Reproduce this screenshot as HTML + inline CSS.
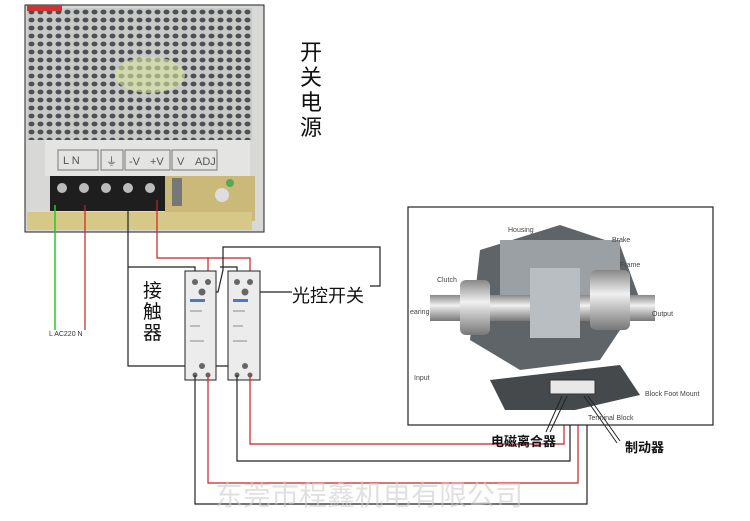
<!DOCTYPE html>
<html><head><meta charset="utf-8"><style>
body{margin:0;background:#fff;}
svg{display:block;font-family:"Liberation Sans","Noto Sans CJK SC",sans-serif;}
</style></head><body>
<svg width="750" height="521" viewBox="0 0 750 521" xmlns="http://www.w3.org/2000/svg">
<defs>
<pattern id="holes" width="9" height="8" patternUnits="userSpaceOnUse">
<rect width="9" height="8" fill="#c9c9c6"/>
<ellipse cx="4.5" cy="4" rx="3" ry="2.4" fill="#4a5058"/>
</pattern>
<linearGradient id="shaft" x1="0" y1="0" x2="0" y2="1">
<stop offset="0" stop-color="#888"/><stop offset="0.4" stop-color="#f0f0f0"/><stop offset="1" stop-color="#777"/>
</linearGradient>
</defs>
<!-- power supply -->
<rect x="25" y="5" width="239" height="227" fill="#d8d8d6" stroke="#222" stroke-width="1"/>
<rect x="27" y="8" width="225" height="132" fill="url(#holes)"/>
<rect x="27" y="5" width="35" height="6" fill="#c33"/>
<ellipse cx="150" cy="75" rx="35" ry="18" fill="#d9e4a0" opacity="0.6"/>
<rect x="45" y="140" width="205" height="36" fill="#e4e4e2"/>
<g fill="none" stroke="#777" stroke-width="1"><rect x="58" y="150" width="40" height="20"/><rect x="101" y="150" width="22" height="20"/><rect x="125" y="150" width="45" height="20"/><rect x="172" y="150" width="45" height="20"/></g>
<g font-size="11" fill="#555"><text x="63" y="164">L N</text><text x="106" y="165">⏚</text><text x="129" y="165">-V</text><text x="150" y="165">+V</text><text x="177" y="165">V</text><text x="195" y="165">ADJ</text></g>
<rect x="50" y="176" width="115" height="35" fill="#1e1e1e"/>
<g fill="#bbb"><circle cx="62" cy="188" r="5"/><circle cx="84" cy="188" r="5"/><circle cx="106" cy="188" r="5"/><circle cx="128" cy="188" r="5"/><circle cx="150" cy="188" r="5"/></g>
<rect x="165" y="176" width="90" height="45" fill="#cbb97a"/>
<rect x="172" y="178" width="10" height="28" fill="#777"/><circle cx="222" cy="195" r="7" fill="#ddd"/><circle cx="230" cy="183" r="4" fill="#5a5"/>
<rect x="27" y="212" width="225" height="18" fill="#d6c987"/>
<text x="300" y="60" font-size="22" fill="#111">开</text><text x="300" y="85" font-size="22" fill="#111">关</text><text x="300" y="110" font-size="22" fill="#111">电</text><text x="300" y="135" font-size="22" fill="#111">源</text>
<!-- AC wires -->
<line x1="55" y1="205" x2="55" y2="330" stroke="#2c2" stroke-width="1.5"/>
<line x1="85" y1="205" x2="85" y2="330" stroke="#c22" stroke-width="1.2"/>
<text x="49" y="336" font-size="7" fill="#333">L  AC220   N</text>
<!-- black feed -->
<polyline points="128,205 128,366 245,366" fill="none" stroke="#222" stroke-width="1.2"/>
<polyline points="128,267 195,267 195,278" fill="none" stroke="#222" stroke-width="1.2"/>
<polyline points="220,267 237,267 237,278" fill="none" stroke="#222" stroke-width="1.2"/>
<!-- red feed -->
<polyline points="157,200 157,258 250,258 250,278" fill="none" stroke="#c22" stroke-width="1.2"/>
<line x1="208" y1="258" x2="208" y2="278" stroke="#c22" stroke-width="1.2"/>
<!-- light switch loop -->
<polyline points="203,292 218,292 223,270 223,247 380,247 380,286 370,286" fill="none" stroke="#222" stroke-width="1.2"/>
<line x1="247" y1="292" x2="292" y2="292" stroke="#222" stroke-width="1.2"/>
<text x="292" y="302" font-size="18" fill="#111">光控开关</text>
<text x="143" y="297" font-size="19" fill="#111">接</text><text x="143" y="318" font-size="19" fill="#111">触</text><text x="143" y="339" font-size="19" fill="#111">器</text>
<!-- contactors -->
<g>
<rect x="185" y="271" width="31" height="109" fill="#ececec" stroke="#222"/>
<rect x="228" y="271" width="32" height="109" fill="#ececec" stroke="#222"/>
<g fill="#666"><circle cx="195" cy="282" r="3"/><circle cx="208" cy="282" r="3"/><circle cx="237" cy="282" r="3"/><circle cx="250" cy="282" r="3"/><circle cx="202" cy="292" r="3.5"/><circle cx="245" cy="292" r="3.5"/><circle cx="202" cy="366" r="3"/><circle cx="245" cy="366" r="3"/><circle cx="195" cy="375" r="2.5"/><circle cx="208" cy="375" r="2.5"/><circle cx="237" cy="375" r="2.5"/><circle cx="250" cy="375" r="2.5"/></g>
<rect x="190" y="299" width="15" height="3" fill="#4a7ac0"/><rect x="233" y="299" width="15" height="3" fill="#4a7ac0"/>
<g fill="#bbb"><rect x="190" y="310" width="12" height="2"/><rect x="190" y="325" width="10" height="2"/><rect x="190" y="340" width="14" height="2"/><rect x="233" y="310" width="12" height="2"/><rect x="233" y="325" width="10" height="2"/><rect x="233" y="340" width="14" height="2"/></g>
</g>
<!-- bottom wires -->
<polyline points="208,375 208,483 578,483 578,397" fill="none" stroke="#c22" stroke-width="1.2"/>
<polyline points="195,375 195,504 587,504 587,397" fill="none" stroke="#222" stroke-width="1.2"/>
<polyline points="250,375 250,444 564,444 564,397" fill="none" stroke="#c22" stroke-width="1.2"/>
<polyline points="237,375 237,461 570,461 570,397" fill="none" stroke="#222" stroke-width="1.2"/>
<!-- motor box -->
<rect x="408" y="207" width="305" height="218" fill="#fff" stroke="#222" stroke-width="1.2"/>
<polygon points="480,250 560,225 620,245 640,300 600,360 520,370 470,340" fill="#5e6468"/>
<rect x="500" y="240" width="120" height="60" fill="#9aa0a4"/>
<rect x="430" y="295" width="225" height="26" fill="url(#shaft)"/>
<rect x="460" y="280" width="30" height="55" rx="6" fill="url(#shaft)"/>
<rect x="530" y="268" width="50" height="70" fill="#b9bec2"/>
<rect x="590" y="270" width="40" height="60" rx="6" fill="url(#shaft)"/>
<polygon points="490,380 620,365 640,395 575,410 505,410" fill="#45494c"/>
<rect x="550" y="380" width="45" height="14" fill="#e8e8e8" stroke="#333"/>
<g font-size="7" fill="#444"><text x="508" y="232">Housing</text><text x="612" y="242">Brake</text><text x="620" y="267">Frame</text><text x="437" y="282">Clutch</text><text x="410" y="314">earing</text><text x="652" y="316">Output</text><text x="414" y="380">Input</text><text x="645" y="396">Block Foot Mount</text><text x="588" y="420">Terminal Block</text></g>
<g stroke="#222" stroke-width="1" fill="none"><line x1="562" y1="396" x2="546" y2="432"/><line x1="567" y1="396" x2="550" y2="432"/><line x1="584" y1="396" x2="617" y2="443"/><line x1="588" y1="396" x2="620" y2="441"/></g>
<text x="491" y="446" font-size="13" font-weight="bold" fill="#111">电磁离合器</text>
<text x="625" y="452" font-size="13" font-weight="bold" fill="#111">制动器</text>
<text x="215" y="505" font-size="28" fill="#ccc" fill-opacity="0.6">东莞市程鑫机电有限公司</text>
</svg>
</body></html>
